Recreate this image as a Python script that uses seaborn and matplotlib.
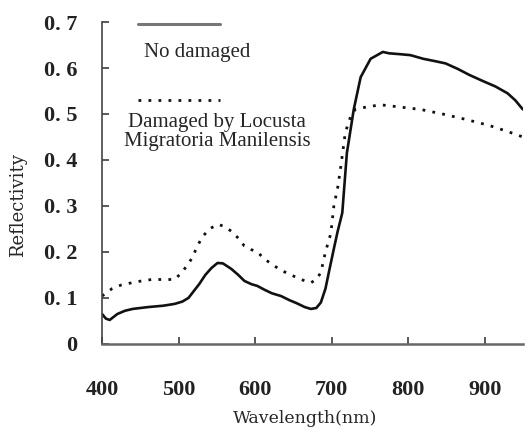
import numpy as np
import pandas as pd
import seaborn as sns
import matplotlib
matplotlib.use("Agg")
import matplotlib.pyplot as plt

# Data
wl_healthy = [400, 405, 410, 420, 430, 440, 460, 480, 495, 505, 513, 520, 527, 535, 543, 551,
              558, 569, 578, 586, 595, 603, 612, 622, 634, 645, 655, 665, 673, 680, 686, 692,
              697, 703, 708, 714, 720, 729, 738, 751, 767, 775, 790, 803, 820, 835, 849, 865,
              880, 900, 914, 930, 940, 950]
refl_healthy = [0.065, 0.055, 0.052, 0.065, 0.072, 0.076, 0.080, 0.083, 0.087, 0.092, 0.100,
                0.115, 0.130, 0.150, 0.165, 0.176, 0.175, 0.163, 0.150, 0.137, 0.130, 0.126,
                0.118, 0.110, 0.104, 0.095, 0.088, 0.080, 0.076, 0.078, 0.090, 0.120, 0.160,
                0.207, 0.245, 0.285, 0.415, 0.510, 0.580, 0.620, 0.635, 0.632, 0.630, 0.628,
                0.620, 0.615, 0.610, 0.598, 0.585, 0.570, 0.560, 0.545, 0.530, 0.510]

wl_damaged = [400, 413, 425, 439, 452, 465, 480, 495, 504, 511, 517, 524, 530, 540, 552, 560,
              569, 578, 586, 595, 603, 612, 623, 634, 647, 660, 673, 680, 686, 692, 699, 703,
              708, 712, 718, 725, 731, 745, 764, 790, 816, 845, 871, 890, 906, 930, 950]
refl_damaged = [0.104, 0.120, 0.128, 0.133, 0.137, 0.140, 0.140, 0.140, 0.155, 0.170, 0.185,
                0.210, 0.230, 0.250, 0.260, 0.255, 0.245, 0.230, 0.213, 0.205, 0.200, 0.185,
                0.172, 0.160, 0.150, 0.140, 0.133, 0.140, 0.155, 0.200, 0.240, 0.300, 0.340,
                0.385, 0.460, 0.495, 0.510, 0.515, 0.520, 0.515, 0.510, 0.500, 0.490, 0.482,
                0.475, 0.462, 0.450]

series_names = ["No damaged", "Damaged by Locusta\nMigratoria Manilensis"]
x_ticks = [400, 500, 600, 700, 800, 900]
y_ticks = [0, 0.1, 0.2, 0.3, 0.4, 0.5, 0.6, 0.7]
y_tick_labels = ["0", "0. 1", "0. 2", "0. 3", "0. 4", "0. 5", "0. 6", "0. 7"]

df = pd.concat([
    pd.DataFrame({"Wavelength": wl_healthy, "Reflectivity": refl_healthy, "Type": series_names[0]}),
    pd.DataFrame({"Wavelength": wl_damaged, "Reflectivity": refl_damaged, "Type": series_names[1]}),
])

sns.set_theme(style="ticks")
plt.rcParams['font.family'] = ['Liberation Serif', 'DejaVu Serif']

fig = plt.figure(figsize=(5.26, 4.32), dpi=100)
ax = fig.add_axes([0.194, 0.204, 0.800, 0.745])

sns.lineplot(data=df, x="Wavelength", y="Reflectivity", hue="Type", style="Type",
             palette=["#111111", "#111111"], dashes=[(None, None), (1, 2.6)],
             linewidth=1.9, ax=ax, legend=False, sort=False)
ax.get_lines()[1].set_linewidth(2.0)

ax.set_xlim(400, 950)
ax.set_ylim(0, 0.7)
ax.set_xticks(x_ticks)
ax.set_xticklabels([str(t) for t in x_ticks], fontsize=16, fontweight="bold", color="#222222")
ax.set_yticks(y_ticks)
ax.set_yticklabels(y_tick_labels, fontsize=16, fontweight="bold", color="#222222")
ax.tick_params(axis="x", direction="in", length=5, pad=26, color="#444444")
ax.tick_params(axis="y", direction="in", length=5, pad=18, color="#444444")

for s in ["top", "right"]:
    ax.spines[s].set_visible(False)
ax.spines["left"].set_color("#444444")
ax.spines["bottom"].set_color("#666666")
ax.spines["left"].set_linewidth(1.2)
ax.spines["bottom"].set_linewidth(1.8)

ax.set_xlabel("Wavelength(nm)", fontsize=12.5, family="DejaVu Serif")
ax.set_ylabel("Reflectivity", fontsize=13, family="DejaVu Serif")
ax.xaxis.set_label_coords(0.482, -0.205)
ax.yaxis.set_label_coords(-0.178, 0.43)

# Legend (handles above labels)
ax.plot([0.086, 0.28], [0.995, 0.995], transform=ax.transAxes, color="#777777",
        linewidth=2.2, clip_on=False)
ax.text(0.226, 0.904, series_names[0], transform=ax.transAxes, fontsize=15,
        ha="center", va="center")
ax.plot([0.086, 0.28], [0.758, 0.758], transform=ax.transAxes, color="#111111",
        linewidth=2.0, linestyle=(0, (1, 2.6)), clip_on=False)
ax.text(0.273, 0.658, series_names[1], transform=ax.transAxes, fontsize=15,
        ha="center", va="center", linespacing=1.0)

fig.savefig("out.png", dpi=100)
